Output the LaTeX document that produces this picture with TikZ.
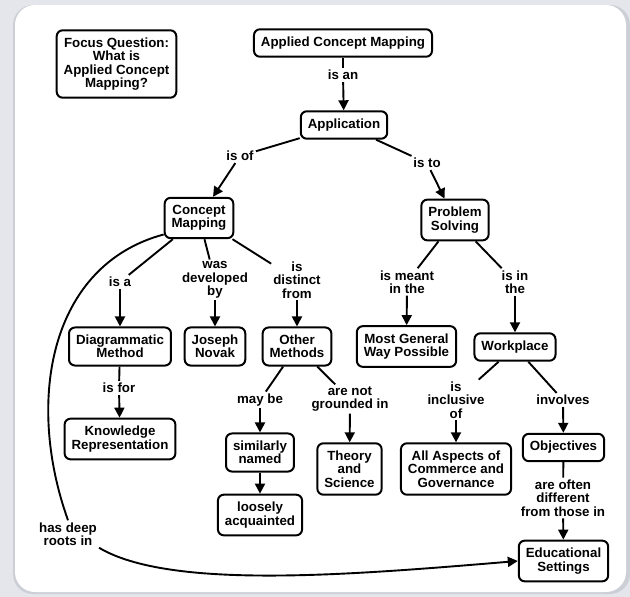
\documentclass[tikz,border=0pt]{standalone}
\usepackage{fontspec}
\setmainfont{Liberation Sans}
\usetikzlibrary{arrows.meta}

\definecolor{pagegray}{RGB}{228,230,235}
\definecolor{shadowgray}{RGB}{204,207,214}

\tikzset{
  concept/.style={draw, line width=2pt, rounded corners=6pt, fill=white,
    align=center, inner xsep=7pt, inner ysep=7.5pt},
  phrase/.style={align=center, inner sep=2pt},
  link/.style={line width=1.9pt},
  linkarrow/.style={line width=1.9pt, -{Triangle[length=10pt,width=10pt]}}
}

\begin{document}
\begin{tikzpicture}[x=1pt, y=-1pt, font=\fontsize{13.3}{13.3}\selectfont\bfseries]

% page and card
\fill[pagegray] (0,0) rectangle (630,597);
\fill[shadowgray, rounded corners=20pt] (13,5) rectangle (630,594);
\fill[white, rounded corners=20pt] (15,5) rectangle (626,592);

% concepts
\node[concept] (focus) at (116.5,64) {Focus Question:\\What is\\Applied Concept\\Mapping?};
\node[concept] (acm) at (343,43) {Applied Concept Mapping};
\node[concept] (app) at (344,125) {Application};
\node[concept] (cm) at (199,218) {Concept\\Mapping};
\node[concept] (ps) at (455,220) {Problem\\Solving};
\node[concept] (dm) at (120,346.5) {Diagrammatic\\Method};
\node[concept] (jn) at (215,346.5) {Joseph\\Novak};
\node[concept] (om) at (297,346.5) {Other\\Methods};
\node[concept] (mg) at (406.5,346.5) {Most General\\Way Possible};
\node[concept] (wp) at (515,347) {Workplace};
\node[concept] (kr) at (120,439) {Knowledge\\Representation};
\node[concept] (sn) at (260,452.5) {similarly\\named};
\node[concept] (la) at (260,515) {loosely\\acquainted};
\node[concept] (ts) at (349.5,469) {Theory\\and\\Science};
\node[concept] (aa) at (456,469) {All Aspects of\\Commerce and\\Governance};
\node[concept] (obj) at (563.5,447.5) {Objectives};
\node[concept] (es) at (563.5,561) {Educational\\Settings};

% linking phrases
\node[phrase] (isan) at (343,75) {is an};
\node[phrase] (isof) at (240,156) {is of};
\node[phrase] (isto) at (427,163) {is to};
\node[phrase] (isa) at (120,282) {is a};
\node[phrase] (wdb) at (215,280) {was\\developed\\by};
\node[phrase] (idf) at (297,280) {is\\distinct\\from};
\node[phrase] (imit) at (407,282) {is meant\\in the};
\node[phrase] (iit) at (515,282) {is in\\the};
\node[phrase] (isfor) at (119,388) {is for};
\node[phrase] (maybe) at (260,400) {may be};
\node[phrase] (ang) at (350,399) {are not\\grounded in};
\node[phrase] (iio) at (456,400) {is\\inclusive\\of};
\node[phrase] (inv) at (563,400) {involves};
\node[phrase] (aod) at (563,498) {are often\\different\\from those in};
\node[phrase] (hdr) at (68,534) {has deep\\roots in};

\foreach \a/\b in {acm/isan, app/isof, app/isto, cm/isa, cm/wdb, cm/idf,
  ps/imit, ps/iit, dm/isfor, om/maybe, om/ang, wp/iio, wp/inv, obj/aod}
  \draw[link] (\a) -- (\b);

\foreach \a/\b in {isan/app, isof/cm, isto/ps, isa/dm, wdb/jn, idf/om,
  imit/mg, iit/wp, isfor/kr, maybe/sn, sn/la, ang/ts, iio/aa, inv/obj, aod/es}
  \draw[linkarrow] (\a) -- (\b);

\draw[link] (cm.205) .. controls (50,265) and (25,400) .. (hdr.north);
\draw[linkarrow] (hdr.south east) .. controls (170,590) and (350,575) .. (es.west);

\end{tikzpicture}
\end{document}
